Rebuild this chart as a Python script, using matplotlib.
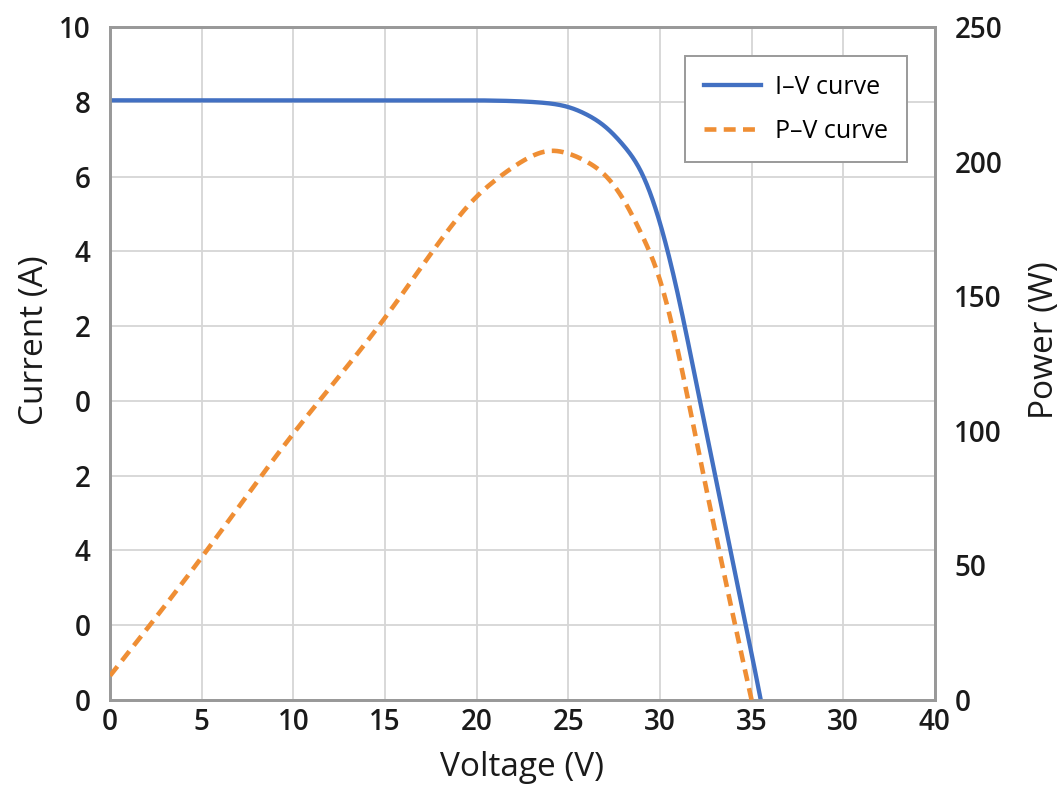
import matplotlib
matplotlib.use("Agg")
import matplotlib.pyplot as plt
import numpy as np

# values
iv_voltage = [0, 5, 10, 15, 20, 22, 23.5, 25, 26, 27, 28, 29, 30, 31, 32, 33, 34, 35, 35.5]
iv_current = [8.02, 8.02, 8.02, 8.02, 8.02, 8.01, 7.99, 7.93, 7.83, 7.67, 7.42, 7.05, 6.38,
              5.4, 4.22, 3.02, 1.82, 0.62, 0.0]

pv_voltage = [0, 5, 10, 15, 17, 18.5, 20, 21, 22, 23, 24, 25, 26, 27, 28, 29, 30, 31, 32,
              33, 34, 35]
pv_power = [9, 53, 99, 142, 161, 175, 187, 193, 198, 202, 204, 203, 200, 195, 186, 173,
            156, 129, 96, 63, 31, 0]

x_ticks = [0, 5, 10, 15, 20, 25, 30, 35, 40, 45]
x_labels = ["0", "5", "10", "15", "20", "25", "30", "35", "30", "40"]
y_ticks = [0, 1, 2, 3, 4, 5, 6, 7, 8, 9]
y_labels = ["0", "0", "4", "2", "0", "2", "4", "6", "8", "10"]
p_ticks = [0, 50, 100, 150, 200, 250]

BLUE = "#4270C2"
ORANGE = "#EF8E34"
GRID = "#d6d6d6"
SPINE = "#999999"
TEXT = "#1a1a1a"


def spline(x, y, n=400):
    # natural cubic spline through the read points, only for a smooth line
    x = np.asarray(x, float)
    y = np.asarray(y, float)
    k = len(x)
    h = np.diff(x)
    A = np.zeros((k, k))
    b = np.zeros(k)
    A[0, 0] = A[-1, -1] = 1
    for i in range(1, k - 1):
        A[i, i - 1] = h[i - 1]
        A[i, i] = 2 * (h[i - 1] + h[i])
        A[i, i + 1] = h[i]
        b[i] = 6 * ((y[i + 1] - y[i]) / h[i] - (y[i] - y[i - 1]) / h[i - 1])
    M = np.linalg.solve(A, b)
    xs = np.linspace(x[0], x[-1], n)
    j = np.clip(np.searchsorted(x, xs) - 1, 0, k - 2)
    a = x[j + 1] - xs
    c = xs - x[j]
    hj = h[j]
    ys = (M[j] * a**3 + M[j + 1] * c**3) / (6 * hj) \
        + (y[j] / hj - M[j] * hj / 6) * a + (y[j + 1] / hj - M[j + 1] * hj / 6) * c
    return xs, ys


fig = plt.figure(figsize=(10.63, 7.96), dpi=100)
ax = fig.add_axes([0.1035, 0.1206, 0.776, 0.8454])
ax2 = ax.twinx()

ax.set_xlim(0, 45)
ax.set_ylim(0, 9)
ax2.set_ylim(0, 250)

tick_font = {"family": "Open Sans", "size": 20, "weight": 600}
ax.set_xticks(x_ticks)
ax.set_xticklabels(x_labels, fontdict=tick_font)
ax.set_yticks(y_ticks)
ax.set_yticklabels(y_labels, fontdict=tick_font)
ax2.set_yticks(p_ticks)
ax2.set_yticklabels([str(p) for p in p_ticks], fontdict=tick_font)

ax.grid(True, color=GRID, linewidth=1.3)
ax.set_axisbelow(True)

for a in (ax, ax2):
    for s in a.spines.values():
        s.set_color(SPINE)
        s.set_linewidth(2)
    a.tick_params(length=0, colors=TEXT)
ax.tick_params(axis="x", pad=6)
ax.tick_params(axis="y", pad=14)
ax2.tick_params(axis="y", pad=14)

# flat part as a line, the knee as a spline
flat = iv_voltage.index(20)
xs, ys = spline(iv_voltage[flat:], iv_current[flat:])
xs = np.concatenate([iv_voltage[:flat], xs])
ys = np.concatenate([iv_current[:flat], ys])
l1, = ax.plot(xs, ys, color=BLUE, linewidth=3.1, label="I–V curve", zorder=3)

xs, ys = spline(pv_voltage, pv_power)
l2, = ax2.plot(xs, ys, color=ORANGE, linewidth=3.3, dashes=(2.6, 1.6),
               label="P–V curve", zorder=3)

lab_font = dict(family="Open Sans", fontsize=24, color=TEXT)
ax.set_xlabel("Voltage (V)", labelpad=10, **lab_font)
ax.set_ylabel("Current (A)", **lab_font)
ax2.set_ylabel("Power (W)", **lab_font)
ax.yaxis.set_label_coords(-0.0715, 0.535)
ax2.yaxis.set_label_coords(1.113, 0.535)

leg = ax2.legend(handles=[l1, l2], loc="upper right", bbox_to_anchor=(0.966, 0.957),
                 borderaxespad=0, fancybox=False, framealpha=1, edgecolor="#9a9a9a",
                 prop={"family": "Open Sans", "size": 18},
                 handlelength=2.3, handletextpad=0.55, labelspacing=0.75,
                 borderpad=0.75)
leg.get_frame().set_linewidth(1.4)

fig.savefig("out.png", dpi=100)
